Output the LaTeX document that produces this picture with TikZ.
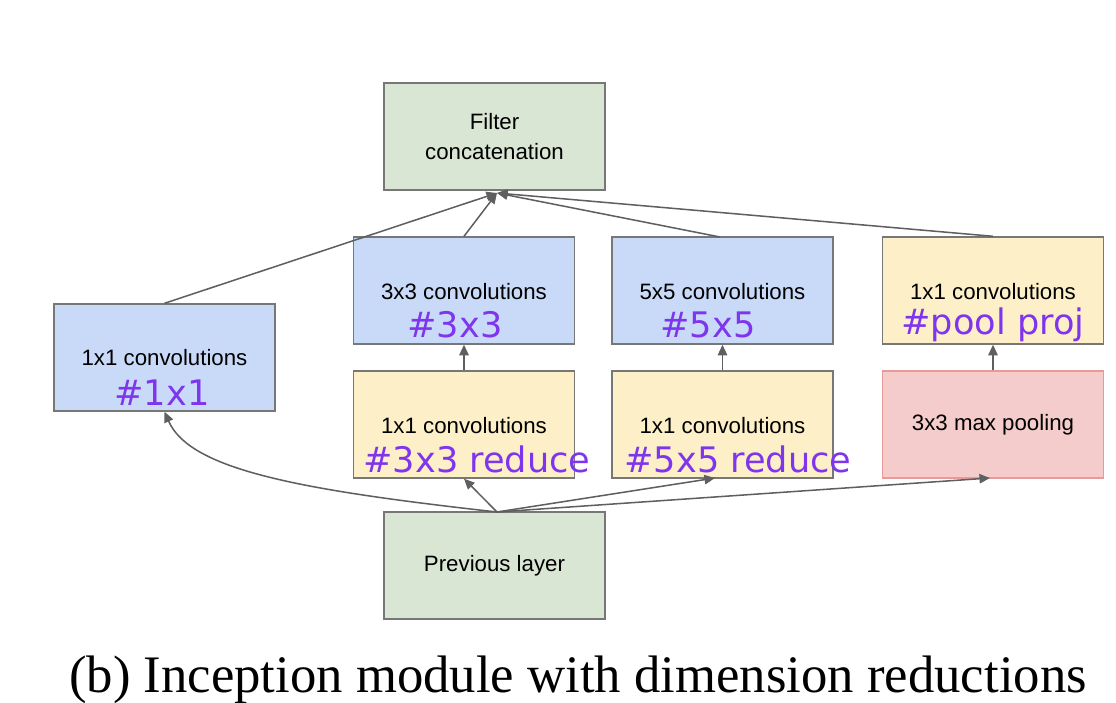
\documentclass[tikz,border=0pt]{standalone}
\usepackage{fontspec}
\setmainfont{Liberation Serif}
\newfontfamily\lab{Liberation Sans}
\newfontfamily\pur{DejaVu Sans}
\usetikzlibrary{arrows.meta}
\definecolor{gfill}{HTML}{D9E6D3}
\definecolor{bfill}{HTML}{C9DAF8}
\definecolor{yfill}{HTML}{FDF0C8}
\definecolor{pfill}{HTML}{F5CCCC}
\definecolor{pdraw}{HTML}{E89A9A}
\definecolor{bord}{HTML}{777777}
\definecolor{purp}{HTML}{7F35EE}
\begin{document}
\begin{tikzpicture}[x=0.03cm,y=-0.03cm,
 box/.style={draw=bord,line width=1.2pt,minimum width=6.63cm,minimum height=3.21cm,inner sep=0pt,align=center,font=\lab\fontsize{19}{26}\selectfont},
 gbox/.style={box,fill=gfill}, bbox/.style={box,fill=bfill}, ybox/.style={box,fill=yfill}, pbox/.style={box,fill=pfill,draw=pdraw},
 arr/.style={draw=bord!80!black,line width=1.3pt,-{Triangle[length=9pt,width=8pt]}},
 lt/.style={font=\lab\fontsize{19}{24}\selectfont},
 pl/.style={text=purp,font=\pur\fontsize{30}{34}\selectfont}]
\useasboundingbox (0,0) rectangle (1116,703);
\node[gbox] (fc) at (494.5,136.5) {Filter\\concatenation};
\node[bbox] (c1) at (164.5,357.5) {};
\node[bbox] (c3) at (464,290.5) {};
\node[bbox] (c5) at (722.5,290.5) {};
\node[ybox] (pp) at (993,290.5) {};
\node[ybox] (r3) at (464,424.5) {};
\node[ybox] (r5) at (722.5,424.5) {};
\node[pbox] (mp) at (993,424.5) {3x3 max pooling};
\node[gbox] (prev) at (494.5,565.5) {Previous layer};
\node[lt] (t1) at (164.5,358) {1x1 convolutions};
\node[pl] (h1) at (162,393) {\#1x1};
\node[lt] (t3) at (464,292) {3x3 convolutions};
\node[pl] (h3) at (455,325) {\#3x3};
\node[lt] (t5) at (722.5,292) {5x5 convolutions};
\node[pl] (h5) at (708,325) {\#5x5};
\node[lt] (tp) at (993,292) {1x1 convolutions};
\node[pl] (hp) at (993,325) {\#pool proj};
\node[lt] (tr3) at (464,426) {1x1 convolutions};
\node[pl] (hr3) at (477,459) {\#3x3 reduce};
\node[lt] (tr5) at (722.5,426) {1x1 convolutions};
\node[pl] (hr5) at (738,459) {\#5x5 reduce};
\node[font=\fontsize{45}{50}\selectfont] (cap) at (578,680) {(b) Inception module with dimension reductions};
\coordinate (s) at (497,512);
\coordinate (e) at (497,193);
\draw[arr] (s) .. controls (300,490) and (190,470) .. (c1.south);
\draw[arr] (s) -- (r3.south);
\draw[arr] (s) -- (715,478);
\draw[arr] (s) -- (990,478);
\draw[arr] (c1.north) -- (e);
\draw[arr] (c3.north) -- (e);
\draw[arr] (720,237) -- (e);
\draw[arr] (pp.north) -- (e);
\draw[arr] (r3.north) -- (c3.south);
\draw[arr] (r5.north) -- (c5.south);
\draw[arr] (mp.north) -- (pp.south);
\end{tikzpicture}
\end{document}
